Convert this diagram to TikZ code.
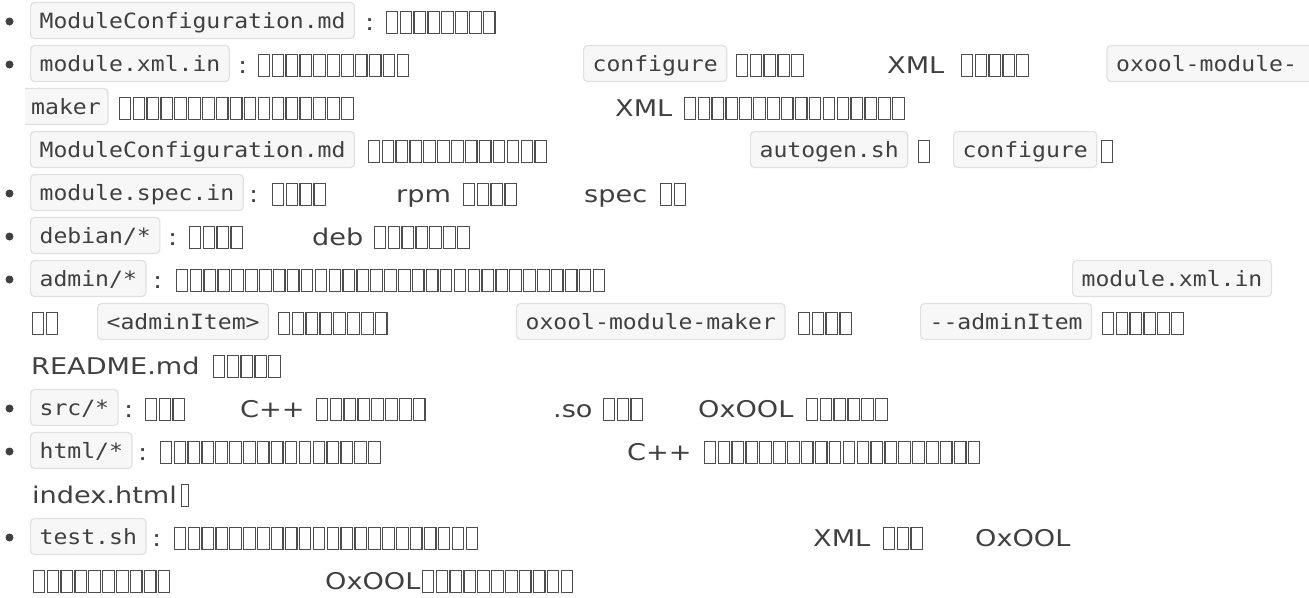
\documentclass[tikz,border=0pt]{standalone}
\usepackage{fontspec}
\setmainfont{DejaVu Sans}[FakeStretch=1.18]
\setmonofont{DejaVu Sans Mono}[FakeStretch=1.10]
\definecolor{txt}{RGB}{64,64,64}
\definecolor{codebg}{RGB}{247,247,247}
\definecolor{codebd}{RGB}{224,224,224}
\definecolor{tofuc}{RGB}{78,78,78}
\newcommand\tofurow[3]{%
  \foreach \k in {1,...,#3}{%
    \draw[tofu] ({#1+13.9*(\k-1)+1.2},{#2-9}) rectangle ({#1+13.9*\k-1.2},{#2+13});}}
\tikzset{
  code/.style={draw=codebd, fill=codebg, line width=1.2pt, rounded corners=4pt,
    inner xsep=9pt, inner ysep=0pt, minimum height=36pt, text height=18.5pt,
    text depth=2pt, anchor=west, font=\ttfamily\fontsize{21}{21}\selectfont, text=txt},
  codetext/.style={inner xsep=0pt, inner ysep=0pt, text height=18.5pt, text depth=2pt,
    anchor=west, font=\ttfamily\fontsize{21}{21}\selectfont, text=txt},
  body/.style={anchor=base west, inner sep=0pt, font=\fontsize{23}{23}\selectfont, text=txt},
  bul/.style={circle, fill=txt, draw=none, inner sep=0pt, minimum size=8pt},
  tofu/.style={draw=tofuc, line width=1.2pt},
  openbox/.style={draw=codebd, line width=1.2pt, rounded corners=4pt}
}
\begin{document}
\begin{tikzpicture}[x=1pt,y=-1pt]
\useasboundingbox[fill=white] (0,0) rectangle (1309,597);
% line 1
\node[bul] (b1) at (9.5,21.5) {};
\node[code] (c1a) at (30,20.5) {ModuleConfiguration.md};
\node[body] (t1a) at (365,30) {:};
\tofurow{385}{20.5}{8}
% line 2
\node[bul] (b2) at (9.5,64.5) {};
\node[code] (c2a) at (30,63.5) {module.xml.in};
\node[body] (t2a) at (238,73) {:};
\tofurow{257}{63.5}{11}
\node[code] (c2b) at (583,63.5) {configure};
\tofurow{735}{63.5}{5}
\node[body] (t2b) at (887,73) {XML};
\tofurow{960}{63.5}{5}
\fill[codebg] (1107,45.5) rectangle (1315,81.5);
\draw[openbox] (1315,45.5) -- (1107,45.5) -- (1107,81.5) -- (1315,81.5);
\node[codetext] (c2c) at (1116,63.5) {oxool-module-};
% line 3
\fill[codebg] (25,88.5) rectangle (108,124.5);
\draw[openbox] (25,88.5) -- (108,88.5) -- (108,124.5) -- (25,124.5);
\node[codetext] (c3a) at (31,106.5) {maker};
\tofurow{118}{106.5}{17}
\node[body] (t3a) at (615,116) {XML};
\tofurow{683}{106.5}{16}
% line 4
\node[code] (c4a) at (30,149.5) {ModuleConfiguration.md};
\tofurow{367}{149.5}{13}
\node[code] (c4b) at (750,149.5) {autogen.sh};
\tofurow{917}{149.5}{1}
\node[code] (c4c) at (953,149.5) {configure};
\tofurow{1100}{149.5}{1}
% line 5
\node[bul] (b5) at (9.5,193.5) {};
\node[code] (c5a) at (30,192.5) {module.spec.in};
\node[body] (t5a) at (249,202) {:};
\tofurow{271}{192.5}{4}
\node[body] (t5b) at (396,202) {rpm};
\tofurow{462}{192.5}{4}
\node[body] (t5c) at (584,202) {spec};
\tofurow{659}{192.5}{2}
% line 6
\node[bul] (b6) at (9.5,236.5) {};
\node[code] (c6a) at (30,235.5) {debian/*};
\node[body] (t6a) at (168,245) {:};
\tofurow{188}{235.5}{4}
\node[body] (t6b) at (312,245) {deb};
\tofurow{373}{235.5}{7}
% line 7
\node[bul] (b7) at (9.5,279.5) {};
\node[code] (c7a) at (30,278.5) {admin/*};
\node[body] (t7a) at (153,288) {:};
\tofurow{175}{278.5}{31}
\node[code] (c7b) at (1072,278.5) {module.xml.in};
% line 8
\tofurow{31}{321.5}{2}
\node[code] (c8a) at (97,321.5) {<adminItem>};
\tofurow{277}{321.5}{8}
\node[code] (c8b) at (516,321.5) {oxool-module-maker};
\tofurow{797}{321.5}{4}
\node[code] (c8c) at (920,321.5) {--adminItem};
\tofurow{1101}{321.5}{6}
% line 9
\node[body] (t9a) at (31,374) {README.md};
\tofurow{212}{364.5}{5}
% line 10
\node[bul] (b10) at (9.5,408.5) {};
\node[code] (c10a) at (30,407.5) {src/*};
\node[body] (t10a) at (124,417) {:};
\tofurow{144}{407.5}{3}
\node[body] (t10b) at (240,417) {C++};
\tofurow{315}{407.5}{8}
\node[body] (t10c) at (553,417) {.so};
\tofurow{602}{407.5}{3}
\node[body] (t10d) at (698,417) {OxOOL};
\tofurow{805}{407.5}{6}
% line 11
\node[bul] (b11) at (9.5,451.5) {};
\node[code] (c11a) at (30,450.5) {html/*};
\node[body] (t11a) at (138,460) {:};
\tofurow{159}{450.5}{16}
\node[body] (t11b) at (627,460) {C++};
\tofurow{703}{450.5}{20}
% line 12
\node[body] (t12a) at (32,503) {index.html};
\draw[tofu] (181.5,484.5) rectangle (188.5,506.5);
% line 13
\node[bul] (b13) at (9.5,537.5) {};
\node[code] (c13a) at (30,536.5) {test.sh};
\node[body] (t13a) at (152,546) {:};
\tofurow{173}{536.5}{22}
\node[body] (t13b) at (813,546) {XML};
\tofurow{882}{536.5}{3}
\node[body] (t13c) at (975,546) {OxOOL};
% line 14
\tofurow{32}{579.5}{10}
\node[body] (t14a) at (325,589) {OxOOL};
\tofurow{421}{579.5}{11}
\end{tikzpicture}
\end{document}
